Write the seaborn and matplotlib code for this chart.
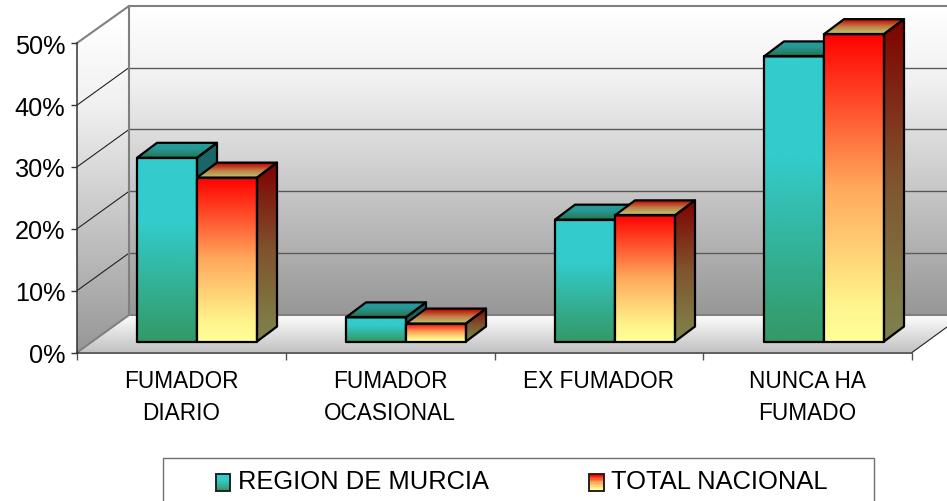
"""Fumadores: bar chart with the fake 3D look of the old spreadsheet style."""
import matplotlib
matplotlib.use("Agg")
import matplotlib.pyplot as plt
import numpy as np
import pandas as pd
import seaborn as sns
from matplotlib.colors import LinearSegmentedColormap
from matplotlib.legend_handler import HandlerBase
from matplotlib.patches import Patch, Polygon, Rectangle

# ---------------------------------------------------------------------------
# Data
# ---------------------------------------------------------------------------
categories = ["FUMADOR\nDIARIO", "FUMADOR\nOCASIONAL", "EX FUMADOR", "NUNCA HA\nFUMADO"]
series_names = ["REGION DE MURCIA", "TOTAL NACIONAL"]
murcia = [29.7, 3.9, 19.7, 46.1]
nacional = [26.5, 2.9, 20.4, 49.7]
y_ticks = [0, 10, 20, 30, 40, 50]
y_tick_labels = ["0%", "10%", "20%", "30%", "40%", "50%"]

W, H = 947, 502
FONT = "Liberation Sans"
TEAL = [(0.0, "#33CCCC"), (0.35, "#33CCCC"), (1.0, "#339966")]
FIRE = [(0.0, "#FF0000"), (0.5, "#FFA85C"), (0.88, "#FFF48C"), (1.0, "#FFFF99")]
DEPTH_PX = (20, 15)  # bar depth, right / up
UNIT_PX = 61.84      # pixels per 10 %
FRONT_Y = 353.5      # 0 % on the front edge
BAR_Y = 342.5        # 0 % at the foot of the bars

sns.set_theme(style="white")
plt.rcParams["font.family"] = [FONT, "DejaVu Sans"]


def px_axes(fig, left, right, top, bottom):
    """Axes placed by image pixels (y counted from the top)."""
    return fig.add_axes([left / W, 1 - bottom / H, (right - left) / W, (bottom - top) / H])


def ramp(stops, factor=1.0):
    cmap = LinearSegmentedColormap.from_list("ramp", stops)
    return (cmap(np.linspace(0, 1, 256))[:, :3] * factor)[:, None, :]


def fill_gradient(ax, poly_xy, extent, rgb, zorder):
    """Vertical gradient clipped to a polygon; rgb[0] is at extent's top."""
    poly = Polygon(poly_xy, closed=True, transform=ax.transData)
    im = ax.imshow(rgb, extent=extent, aspect="auto", origin="upper",
                   interpolation="bilinear", zorder=zorder)
    im.set_clip_path(poly)
    return im


class GradientHandle(HandlerBase):
    """Legend swatch made of thin bands, since a Patch has no gradient fill."""

    def __init__(self, stops):
        super().__init__()
        self.stops = stops

    def create_artists(self, legend, orig_handle, xdescent, ydescent,
                       width, height, fontsize, trans):
        rgb = ramp(self.stops)[:, 0, :]
        n = 12
        y0 = -ydescent - 2.5  # swatch sits a little below the text centre
        artists = []
        for i in range(n):
            c = rgb[int(i / (n - 1) * 255)]
            artists.append(Rectangle((-xdescent, y0 + height * (n - 1 - i) / n),
                                     width, height / n, facecolor=c, edgecolor="none",
                                     transform=trans))
        artists.append(Rectangle((-xdescent, y0), width, height, facecolor="none",
                                 edgecolor="#222222", linewidth=1.4, transform=trans))
        return artists


fig = plt.figure(figsize=(W / 100, H / 100), dpi=100, facecolor="white")

# ---------------------------------------------------------------------------
# Walls and floor, in pixel coordinates
# ---------------------------------------------------------------------------
ax_bg = px_axes(fig, 0, W, 0, H)
ax_bg.set_xlim(0, W)
ax_bg.set_ylim(H, 0)
ax_bg.axis("off")

wall = ramp([(0, "#FFFFFF"), (0.25, "#F0F0F0"), (1, "#979797")])
floor = ramp([(0, "#FFFFFF"), (1, "#C2C2C2")])
fill_gradient(ax_bg, [(129, 7), (W, 7), (W, 316), (129, 316)], (129, W, 316, 7), wall, 1)
fill_gradient(ax_bg, [(77, 44), (129, 7), (129, 316), (77, FRONT_Y)], (77, 129, FRONT_Y, 25), wall, 1)
fill_gradient(ax_bg, [(129, 316), (W, 316), (W, 328), (912, FRONT_Y), (77, FRONT_Y)],
              (77, W, FRONT_Y, 316), floor, 1)
ax_bg.set_xlim(0, W)
ax_bg.set_ylim(H, 0)

for k in range(1, 5):
    y_back = 316 - UNIT_PX * k
    ax_bg.plot([129, W], [y_back, y_back], color="#5A5A5A", lw=1.0, zorder=2)
    ax_bg.plot([77, 129], [y_back + 37.5, y_back], color="#222222", lw=0.8, zorder=2)
for xs, ys in [([129, W], [7, 7]), ([129, 129], [7, 316]), ([77, 129], [44, 7]),
               ([77, 129], [FRONT_Y, 316]), ([129, W], [316, 316])]:
    ax_bg.plot(xs, ys, color="#808080", lw=1.5, zorder=3)
ax_bg.plot([912, W], [FRONT_Y, 328], color="#222222", lw=0.8, zorder=3)

# legend box runs off the bottom of the image
ax_bg.add_patch(Rectangle((163, 459), 711, 60, facecolor="white",
                          edgecolor="#707070", lw=1.0, zorder=3))

# ---------------------------------------------------------------------------
# Front axes: value ticks and category labels
# ---------------------------------------------------------------------------
ax_front = px_axes(fig, 77, 912, FRONT_Y - UNIT_PX * 5, FRONT_Y)
ax_front.patch.set_alpha(0)
ax_front.set_xlim(0, 4)
ax_front.set_ylim(0, 50)
ax_front.set_yticks(y_ticks, y_tick_labels, fontsize=18.2, color="black")
ax_front.set_xticks(range(5), [""] * 5)
ax_front.set_xticks(np.arange(4) + 0.5, categories, minor=True, fontsize=16.3,
                    linespacing=1.47, color="black")
ax_front.tick_params(axis="y", which="major", left=True, length=4.3, width=1, color="#333333", pad=4.2)
ax_front.tick_params(axis="x", which="major", bottom=True, length=5, width=1, color="#555555")
ax_front.tick_params(axis="x", which="minor", bottom=False, length=0, pad=12.2)
for side in ("top", "right"):
    ax_front.spines[side].set_visible(False)
for side in ("left", "bottom"):
    ax_front.spines[side].set_color("#333333")
    ax_front.spines[side].set_linewidth(1.1)

# ---------------------------------------------------------------------------
# Bars
# ---------------------------------------------------------------------------
df = pd.DataFrame({
    "categoria": categories * 2,
    "serie": [series_names[0]] * 4 + [series_names[1]] * 4,
    "pct": murcia + nacional,
})
# axes run to 60 % so the depth faces of the tallest bar are not clipped
ax = px_axes(fig, 92.5, 928.5, BAR_Y - UNIT_PX * 6, BAR_Y)
ax.patch.set_alpha(0)
sns.barplot(data=df, x="categoria", y="pct", hue="serie", hue_order=series_names,
            order=categories, palette=["#33CCCC", "#FF0000"], width=120 / 209,
            gap=0, legend=False, errorbar=None, ax=ax)
ax.set_xlim(-0.5, 3.5)
ax.set_ylim(0, 60)
ax.axis("off")

dx = DEPTH_PX[0] / 209
dy = DEPTH_PX[1] / UNIT_PX * 10
z = 10
for container, stops in zip(ax.containers, (TEAL, FIRE)):
    for bar in container:
        x0, x1, h = bar.get_x(), bar.get_x() + bar.get_width(), bar.get_height()
        side = [(x1, 0), (x1 + dx, dy), (x1 + dx, h + dy), (x1, h)]
        top = [(x0, h), (x1, h), (x1 + dx, h + dy), (x0 + dx, h + dy)]
        front = [(x0, 0), (x1, 0), (x1, h), (x0, h)]
        fill_gradient(ax, side, (x1, x1 + dx, 0, h + dy), ramp(stops, 0.5), z)
        fill_gradient(ax, top, (x0, x1 + dx, h, h + dy), ramp(stops, 0.75), z)
        fill_gradient(ax, front, (x0, x1, 0, h), ramp(stops), z)
        for xy in (side, top, front):
            ax.add_patch(Polygon(xy, closed=True, facecolor="none", edgecolor="black",
                                 lw=1.6, joinstyle="round", clip_on=False, zorder=z + 1))
        bar.set_visible(False)
        z += 2
ax.set_xlim(-0.5, 3.5)
ax.set_ylim(0, 60)

# ---------------------------------------------------------------------------
# Legend
# ---------------------------------------------------------------------------
handles = [Patch(label=name) for name in series_names]
fig.legend(
    handles=handles, labels=series_names, ncols=2, frameon=False, labelcolor="black",
    handler_map={handles[0]: GradientHandle(TEAL), handles[1]: GradientHandle(FIRE)},
    loc="center left", bbox_to_anchor=(208 / W, 1 - 482 / H), prop={"family": FONT, "size": 18.4},
    handlelength=0.58, handleheight=0.6, handletextpad=0.3, columnspacing=3.9,
    borderpad=0.3, borderaxespad=0,
)

fig.savefig("out.png", dpi=100)
plt.close(fig)
